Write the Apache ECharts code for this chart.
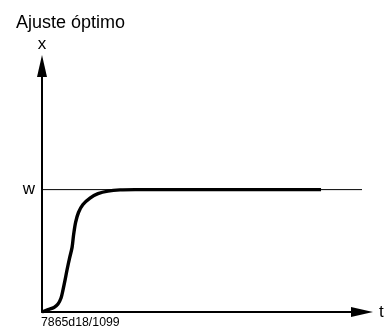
<!DOCTYPE html>
<html>
<head>
<meta charset="utf-8">
<script src="https://cdn.jsdelivr.net/npm/echarts@6/dist/echarts.min.js"></script>
<style>
  html, body { margin: 0; padding: 0; background: #fff; }
  #chart { width: 387px; height: 329px; }
</style>
</head>
<body>
<div id="chart"></div>
<script>
// Step response: controlled variable x over time t, settling on set point w
const timeValues = [0, 1.9, 3.75, 5, 5.95, 6.55, 7.2, 7.8, 8.6, 9.4, 9.85, 10.5, 11.4, 12.8, 15, 17.5, 20.6, 24.4, 29.1, 87.2];
const responseValues = [0, 0.02, 0.037, 0.065, 0.114, 0.179, 0.26, 0.341, 0.439, 0.528, 0.626, 0.732, 0.813, 0.878, 0.931, 0.967, 0.988, 0.998, 1, 1];
const setPoint = 1;
const setPointSpan = [0, 100];
const yTickLabels = { 1: 'w' };

const fontFamily = '"Liberation Sans", Arial, sans-serif';
const chart = echarts.init(document.getElementById('chart'));

const axisLineStyle = {
  show: true,
  symbol: ['none', 'triangle'],
  symbolSize: [10, 22],
  lineStyle: { color: '#000', width: 2 }
};

chart.setOption({
  animation: false,
  title: [
    {
      text: 'Ajuste óptimo',
      left: 11,
      top: 9,
      textStyle: { fontFamily, fontSize: 18, fontWeight: 'normal', color: '#000' }
    },
    {
      text: '7865d18/1099',
      left: 41,
      top: 317,
      padding: 0,
      textStyle: { fontFamily, fontSize: 12.3, fontWeight: 'normal', color: '#000' }
    }
  ],
  grid: { left: 42, right: 25, top: 66, bottom: 17 },
  xAxis: {
    type: 'value',
    min: 0,
    max: 100,
    name: 't',
    nameLocation: 'end',
    nameGap: 17,
    nameTextStyle: { fontFamily, fontSize: 17, color: '#000', verticalAlign: 'middle' },
    axisLine: axisLineStyle,
    axisTick: { show: false },
    axisLabel: { show: false },
    splitLine: { show: false }
  },
  yAxis: {
    type: 'value',
    min: 0,
    max: 2.01,
    interval: 1,
    name: 'x',
    nameLocation: 'end',
    nameGap: 13,
    nameTextStyle: { fontFamily, fontSize: 17, color: '#000', align: 'center' },
    axisLine: axisLineStyle,
    axisTick: { show: false },
    axisLabel: {
      show: true,
      margin: 7,
      fontFamily,
      fontSize: 17,
      color: '#000',
      padding: [4, 0, 0, 0],
      formatter: v => yTickLabels[v] || ''
    },
    splitLine: { show: false }
  },
  series: [
    {
      type: 'line',
      data: setPointSpan.map(t => [t, setPoint]),
      symbol: 'none',
      lineStyle: { color: '#000', width: 1 },
      z: 1
    },
    {
      type: 'line',
      data: timeValues.map((t, i) => [t, responseValues[i]]),
      smooth: 0.3,
      symbol: 'none',
      lineStyle: { color: '#000', width: 3.4 },
      z: 2
    }
  ]
});
</script>
</body>
</html>
